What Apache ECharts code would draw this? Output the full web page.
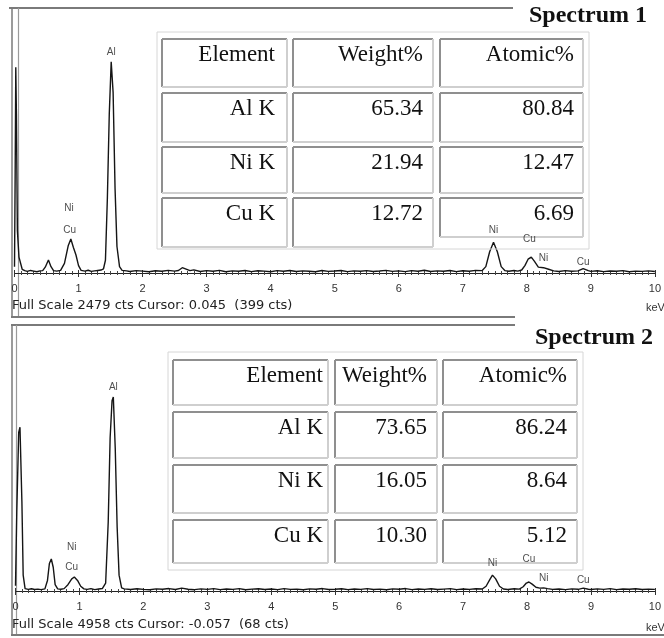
<!DOCTYPE html>
<html><head><meta charset="utf-8">
<script src="https://cdn.jsdelivr.net/npm/echarts@6/dist/echarts.min.js"></script>
<style>html,body{margin:0;padding:0;background:#fff}#c{width:664px;height:638px}</style>
</head><body><div id="c"></div>
<script>
// ---------- DATA ----------
const energyTicks = [0,1,2,3,4,5,6,7,8,9,10];
const fullScale1 = 2479;
const fullScale2 = 4958;
const footer1 = 'Full Scale 2479 cts Cursor: 0.045  (399 cts)';
const footer2 = 'Full Scale 4958 cts Cursor: -0.057  (68 cts)';
const title1 = 'Spectrum 1';
const title2 = 'Spectrum 2';
const tableHeaders = ['Element','Weight%','Atomic%'];
const elements = ['Al K','Ni K','Cu K'];
const weight1 = [65.34,21.94,12.72];
const atomic1 = [80.84,12.47,6.69];
const weight2 = [73.65,16.05,10.30];
const atomic2 = [86.24,8.64,5.12];

// spectrum 1: [keV, counts]
const spectrum1 = [
[0.00,60],[0.01,900],[0.02,1940],[0.03,1500],[0.045,399],[0.07,150],[0.1,140],[0.12,35],
[0.16,22],[0.2,15],[0.25,24],[0.3,18],[0.35,12],[0.4,20],
[0.44,22],[0.48,55],[0.53,123],[0.57,60],[0.61,22],
[0.66,18],[0.72,25],[0.78,90],[0.84,260],[0.88,320],[0.92,240],[0.96,170],[1.0,70],[1.04,25],
[1.1,18],[1.15,26],[1.2,15],[1.25,20],[1.3,24],[1.35,28],
[1.39,40],[1.42,120],[1.45,700],[1.48,1500],[1.51,1990],[1.54,1700],[1.57,800],[1.6,250],[1.64,60],[1.68,25],
[1.75,20],[1.8,14],[1.9,22],[2.0,18],[2.1,12],[2.2,21],[2.3,16],[2.4,25],[2.5,18],[2.56,24],[2.62,50],[2.68,36],[2.74,22],
[2.8,30],[2.9,14],[3.0,22],[3.1,17],[3.2,25],[3.3,12],[3.4,20],[3.5,16],[3.6,24],[3.7,13],[3.8,21],[3.9,18],[4.0,12],
[4.1,22],[4.2,16],[4.3,24],[4.4,14],[4.5,20],[4.6,17],[4.7,12],[4.8,23],[4.9,15],[5.0,19],
[5.1,24],[5.2,13],[5.3,20],[5.4,16],[5.5,22],[5.6,14],[5.7,19],[5.8,25],[5.9,15],[6.0,20],
[6.1,13],[6.2,22],[6.3,17],[6.4,26],[6.5,14],[6.6,20],[6.7,16],[6.8,24],[6.9,13],[7.0,21],
[7.1,17],[7.2,25],[7.3,22],[7.36,60],[7.42,200],[7.48,290],[7.54,200],[7.6,60],[7.66,22],
[7.72,16],[7.8,24],[7.86,18],[7.92,28],[7.97,70],[8.02,130],[8.07,150],[8.12,110],[8.18,55],[8.26,50],[8.34,35],[8.42,20],
[8.5,14],[8.6,22],[8.7,16],[8.8,20],[8.88,42],[8.96,22],
[9.0,15],[9.1,21],[9.2,13],[9.3,19],[9.4,16],[9.5,22],[9.6,12],[9.7,18],[9.8,15],[9.9,20],[10.0,14]
];
// spectrum 2: [keV, counts]
const spectrum2 = [
[0.0,100],[0.02,1500],[0.05,3000],[0.07,3100],[0.1,1700],[0.12,300],[0.15,45],
[0.2,30],[0.25,42],[0.3,28],[0.35,36],[0.4,25],[0.46,40],[0.5,200],[0.53,520],[0.56,605],[0.59,450],[0.62,120],[0.66,40],
[0.71,32],[0.76,45],[0.82,120],[0.88,230],[0.92,265],[0.97,200],[1.02,90],[1.07,40],
[1.12,30],[1.18,44],[1.24,26],[1.3,38],[1.36,48],[1.41,150],[1.45,1300],[1.48,2900],[1.51,3600],[1.53,3670],[1.56,2700],[1.59,1200],[1.62,300],[1.66,60],[1.7,40],
[1.8,28],[1.9,42],[2.0,30],[2.1,24],[2.2,40],[2.3,32],[2.4,46],[2.5,28],[2.6,55],[2.7,34],[2.8,25],[2.9,40],[3.0,30],
[3.1,44],[3.2,26],[3.3,38],[3.4,30],[3.5,46],[3.6,24],[3.7,36],[3.8,42],[3.9,28],[4.0,38],
[4.1,26],[4.2,44],[4.3,30],[4.4,36],[4.5,24],[4.6,40],[4.7,32],[4.8,46],[4.9,28],[5.0,34],
[5.1,42],[5.2,26],[5.3,38],[5.4,30],[5.5,44],[5.6,28],[5.7,36],[5.8,24],[5.9,40],[6.0,32],
[6.1,46],[6.2,26],[6.3,38],[6.4,30],[6.5,42],[6.6,28],[6.7,36],[6.8,44],[6.9,26],[7.0,38],
[7.1,30],[7.2,42],[7.3,38],[7.36,90],[7.42,220],[7.46,300],[7.51,230],[7.57,90],[7.63,38],
[7.7,28],[7.8,42],[7.88,35],[7.94,80],[7.99,150],[8.03,170],[8.08,130],[8.14,70],[8.2,55],[8.26,60],[8.32,45],[8.4,30],
[8.5,38],[8.6,26],[8.7,40],[8.8,32],[8.88,55],[8.96,34],
[9.0,28],[9.1,40],[9.2,30],[9.3,44],[9.4,26],[9.5,38],[9.6,32],[9.7,42],[9.8,28],[9.9,36],[10.0,30]
];
// peak labels: name, keV, counts level of label centre
const peakNames1 = ['Al','Ni','Cu','Ni','Cu','Ni','Cu'];
const peakKeV1   = [1.51,0.85,0.86,7.48,8.04,8.26,8.88];
const peakCts1   = [2084,613,405,405,320,141,104];
const peakNames2 = ['Al','Ni','Cu','Ni','Cu','Ni','Cu'];
const peakKeV2   = [1.53,0.88,0.88,7.46,8.03,8.26,8.88];
const peakCts2   = [3860,832,454,530,605,246,208];

// ---------- CHART ----------
const chart = echarts.init(document.getElementById('c'), null, {renderer:'canvas'});
const grids = [
  {left:14.5, top:10, width:645, height:263},
  {left:15.5, top:329, width:650, height:262}
];
function xAxes(gi){
  return [{
    type:'value', gridIndex:gi, min:0, max:10, interval:1,
    axisLine:{show:true, lineStyle:{color:'#222', width:1}},
    axisTick:{show:true, inside:false, length:4, lineStyle:{color:'#333'}},
    minorTick:{show:true, splitNumber:10, length:2, lineStyle:{color:'#444'}},
    axisLabel:{show:true, fontFamily:'Liberation Sans', fontSize:11, color:'#333', margin:10},
    splitLine:{show:false}, minorSplitLine:{show:false}
  },{
    type:'value', gridIndex:gi, min:0, max:10, interval:1, position:'bottom',
    axisLine:{show:false},
    axisTick:{show:true, inside:true, length:3, lineStyle:{color:'#333'}},
    minorTick:{show:true, splitNumber:10, length:2, lineStyle:{color:'#444'}},
    axisLabel:{show:false}, splitLine:{show:false}, minorSplitLine:{show:false}
  }];
}
function labelSeries(names, kev, cts, xi, yi){
  return {
    type:'scatter', xAxisIndex:xi, yAxisIndex:yi, symbolSize:0, silent:true, z:20,
    data: names.map((n,i)=>({name:n, value:[kev[i], cts[i]]})),
    label:{show:true, position:'inside', formatter:p=>p.name, fontFamily:'Liberation Sans', fontSize:10, color:'#222'}
  };
}

const G = [];
const frameColor = '#7a7a7a';
function line(x1,y1,x2,y2,color,w){ G.push({type:'line', shape:{x1,y1,x2,y2}, style:{stroke:color, lineWidth:w}, silent:true}); }
function text(x,y,str,font,align,color){ G.push({type:'text', x, y, style:{text:str, font, textAlign:align, textVerticalAlign:'middle', fill:color||'#111'}, silent:true, z:10}); }

// frames
line(9,8,513,8,frameColor,2); line(12,8,12,317,frameColor,1.5); line(18.5,8,18.5,317,'#9a9a9a',1.2); line(11,317,515,317,frameColor,2);
line(11,325,515,325,frameColor,2); line(12,325,12,635,frameColor,1.5); line(16.5,325,16.5,635,'#9a9a9a',1.2); line(11,635,664,635,frameColor,2);

// titles and footers
text(588,16,title1,'bold 24px "Liberation Serif"','center','#111');
text(594,338,title2,'bold 24px "Liberation Serif"','center','#111');
text(12,306,footer1,'13px "DejaVu Sans"','left','#222');
text(12,625,footer2,'13px "DejaVu Sans"','left','#222');
text(646,308,'keV','11px "Liberation Sans"','left','#333');
text(646,628,'keV','11px "Liberation Sans"','left','#333');

// tables
function table(outer, colX, rowY, lastRowBottom, weights, atomics, pad){
  G.push({type:'rect', shape:{x:outer[0], y:outer[1], width:outer[2]-outer[0], height:outer[3]-outer[1]}, style:{fill:'none', stroke:'#d6d6d6', lineWidth:1}, z:5, silent:true});
  const rows = [tableHeaders].concat(elements.map((e,i)=>[e, weights[i].toFixed(2), atomics[i].toFixed(2)]));
  rows.forEach((r,ri)=>{
    r.forEach((cell,ci)=>{
      const y1=rowY[ri][0];
      const y2=(ri===rows.length-1) ? lastRowBottom[ci] : rowY[ri][1];
      const x1=colX[ci][0], x2=colX[ci][1];
      G.push({type:'line', shape:{x1:x1,y1:y1,x2:x2,y2:y1}, style:{stroke:'#8f8f8f', lineWidth:2}, z:6, silent:true});
      G.push({type:'line', shape:{x1:x1,y1:y1,x2:x1,y2:y2}, style:{stroke:'#8f8f8f', lineWidth:2}, z:6, silent:true});
      G.push({type:'line', shape:{x1:x2,y1:y1,x2:x2,y2:y2}, style:{stroke:'#cfcfcf', lineWidth:2}, z:6, silent:true});
      G.push({type:'line', shape:{x1:x1,y1:y2,x2:x2,y2:y2}, style:{stroke:'#cfcfcf', lineWidth:2}, z:6, silent:true});
      text(x2-pad[ci], y1+16, cell, '23px "Liberation Serif"', 'right', '#111');
    });
  });
}
table([157,32,589,249], [[162,287],[293,433],[440,583]], [[39,87],[93,142],[147,193],[198,247]], [247,247,237], weight1, atomic1, [12,10,9]);
table([168,352,583,570], [[173,328],[335,437],[443,577]], [[360,405],[412,458],[465,513],[520,563]], [563,563,563], weight2, atomic2, [5,10,10]);

const option = {
  animation:false,
  backgroundColor:'#fff',
  grid: grids,
  xAxis: xAxes(0).concat(xAxes(1)),
  yAxis: [
    {type:'value', gridIndex:0, min:0, max:fullScale1, show:false},
    {type:'value', gridIndex:1, min:0, max:fullScale2, show:false}
  ],
  series: [
    {type:'line', xAxisIndex:0, yAxisIndex:0, data:spectrum1, showSymbol:false, symbol:'none', lineStyle:{color:'#151515', width:1.4}, z:3},
    {type:'line', xAxisIndex:2, yAxisIndex:1, data:spectrum2, showSymbol:false, symbol:'none', lineStyle:{color:'#151515', width:1.4}, z:3},
    labelSeries(peakNames1, peakKeV1, peakCts1, 0, 0),
    labelSeries(peakNames2, peakKeV2, peakCts2, 2, 1)
  ],
  graphic: G
};
chart.setOption(option);
</script>
</body></html>
